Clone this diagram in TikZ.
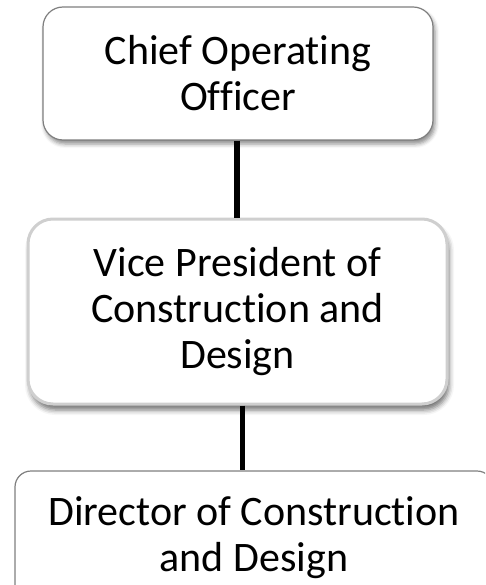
\documentclass[tikz,border=0pt]{standalone}
\usepackage{fontspec}
\setmainfont{Carlito}[Ligatures={NoCommon}]
\usetikzlibrary{shadows.blur}
\definecolor{edgegray}{HTML}{7F7F7F}
\definecolor{softgray}{HTML}{CFCFCF}
\begin{document}
\begin{tikzpicture}[x=1pt,y=-1pt,
  orgbox/.style={rectangle, fill=white, align=center, inner sep=0pt,
    font=\fontsize{42}{46}\selectfont, text=black},
  link/.style={line width=5.5pt, black}]
\useasboundingbox (0,0) rectangle (485,585);
\clip (0,0) rectangle (485,585);
\node[orgbox, draw=edgegray, line width=1.2pt, rounded corners=20pt,
  minimum width=390pt, minimum height=133pt,
  blur shadow={shadow xshift=2pt, shadow yshift=-4pt, shadow blur radius=4pt, shadow opacity=45}]
  (coo) at (238,73.5) {Chief Operating\\Officer};
\node[orgbox, draw=softgray, line width=3pt, rounded corners=25pt,
  minimum width=419pt, minimum height=185pt,
  blur shadow={shadow xshift=2pt, shadow yshift=-6pt, shadow blur radius=5pt, shadow opacity=55}]
  (vp) at (237.5,311.5) {Vice President of\\Construction and\\Design};
\node[orgbox, draw=edgegray, line width=1.2pt, rounded corners=16pt,
  minimum width=478pt, minimum height=134pt]
  (dir) at (254,538) {Director of Construction\\and Design};
\coordinate (cA) at (237,0);
\coordinate (cB) at (242.5,0);
\draw[link] (coo.south -| cA) -- (vp.north -| cA);
\draw[link] (vp.south -| cB) -- (dir.north -| cB);
\end{tikzpicture}
\end{document}
